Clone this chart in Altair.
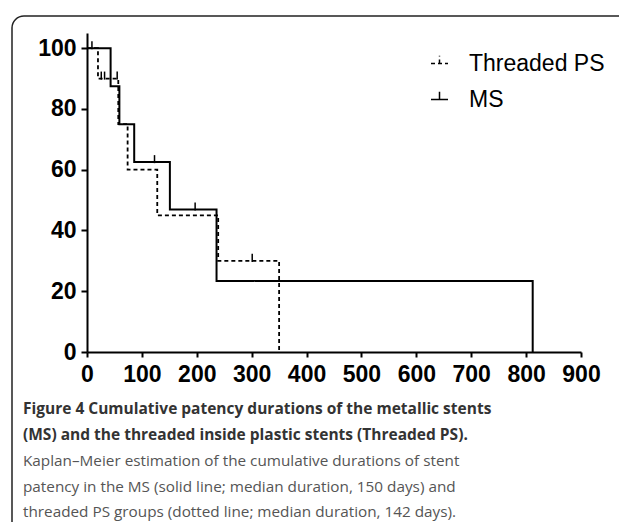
import altair as alt
import pandas as pd

# Kaplan-Meier step data (days, % patency)
ms_days = [0, 43, 59, 86, 151, 236, 812]
ms_surv = [100, 87.5, 75, 62.5, 46.9, 23.4, 0]
ps_days = [0, 20, 57, 74, 128, 239, 350]
ps_surv = [100, 90, 75, 60, 45, 30, 0]

# censored observations
ms_cens_days = [9, 123, 197]
ms_cens_surv = [100, 62.5, 46.9]
ps_cens_days = [26, 32, 55, 301]
ps_cens_surv = [90, 90, 90, 30]

groups = ["Threaded PS", "MS"]
x_ticks = [0, 100, 200, 300, 400, 500, 600, 700, 800, 900]
y_ticks = [0, 20, 40, 60, 80, 100]

caption_bold = [
    "Figure 4 Cumulative patency durations of the metallic stents",
    "(MS) and the threaded inside plastic stents (Threaded PS).",
]
caption_reg = [
    "Kaplan\u2013Meier estimation of the cumulative durations of stent",
    "patency in the MS (solid line; median duration, 150 days) and",
    "threaded PS groups (dotted line; median duration, 142 days).",
]

curves = pd.DataFrame(
    {"t": ms_days + ps_days,
     "s": ms_surv + ps_surv,
     "g": ["MS"] * len(ms_days) + ["Threaded PS"] * len(ps_days)}
)
cens = pd.DataFrame(
    {"t": ms_cens_days + ps_cens_days,
     "s": ms_cens_surv + ps_cens_surv,
     "g": ["MS"] * len(ms_cens_days) + ["Threaded PS"] * len(ps_cens_days)}
)

xs = alt.Scale(domain=[0, 900], nice=False)
ys = alt.Scale(domain=[0, 105], nice=False)

x_axis = alt.Axis(values=x_ticks, title=None, grid=False, labelFlush=False,
                  tickSize=5, labelPadding=6)
y_axis = alt.Axis(values=y_ticks, title=None, grid=False, labelFlush=False,
                  tickSize=6, labelPadding=5)

dash = alt.StrokeDash(
    "g:N",
    scale=alt.Scale(domain=groups, range=[[4, 3], [1, 0]]),
    legend=alt.Legend(
        title=None, orient="none", legendX=341, legendY=19,
        symbolType="M-1,0L1,0M0,0L0,-0.9", symbolSize=289,
        symbolStrokeWidth=1.5, symbolStrokeColor="black",
        labelFont="Liberation Sans", labelFontSize=23, labelColor="black",
        labelOffset=18, rowPadding=12, padding=0,
    ),
)

base = alt.Chart(curves)

dashed = base.transform_filter(alt.datum.g == "Threaded PS").mark_line(
    interpolate="step-after", color="black", strokeWidth=1.8
).encode(x=alt.X("t:Q", scale=xs, axis=x_axis),
         y=alt.Y("s:Q", scale=ys, axis=y_axis),
         strokeDash=dash)

solid = base.transform_filter(alt.datum.g == "MS").mark_line(
    interpolate="step-after", color="black", strokeWidth=2
).encode(x=alt.X("t:Q", scale=xs), y=alt.Y("s:Q", scale=ys), strokeDash=dash)

ticks = alt.Chart(cens).mark_point(
    shape="M0,-1L0,0.15", size=196, filled=False, color="black", strokeWidth=1.5,
    opacity=1
).encode(x=alt.X("t:Q", scale=xs), y=alt.Y("s:Q", scale=ys))

one = alt.Data(values=[{}])

border = alt.Chart(one).mark_rect(
    fill="transparent", stroke="#222222", strokeWidth=1.5, cornerRadius=12
).encode(x=alt.value(-75), x2=alt.value(560), y=alt.value(-17), y2=alt.value(520))

cap_y = [381, 407, 432.5, 458.5, 484]
cap_layers = []
for i, line in enumerate(caption_bold):
    cap_layers.append(
        alt.Chart(one).mark_text(
            text=line, align="left", baseline="alphabetic", font="Open Sans",
            fontWeight="bold", fontSize=15.5, color="#333333"
        ).encode(x=alt.value(-64), y=alt.value(cap_y[i]))
    )
for j, line in enumerate(caption_reg):
    cap_layers.append(
        alt.Chart(one).mark_text(
            text=line, align="left", baseline="alphabetic", font="Open Sans",
            fontSize=15.3, color="#555555"
        ).encode(x=alt.value(-64), y=alt.value(cap_y[2 + j]))
    )

chart = alt.layer(border, dashed, solid, ticks, *cap_layers).properties(
    width=494, height=319,
    padding={"left": 79, "top": 25, "right": 38, "bottom": 170},
    autosize=alt.AutoSizeParams(type="none"),
    background="white",
).configure_view(stroke=None).configure_axis(
    labelFont="Liberation Sans", labelFontWeight="bold", labelFontSize=23,
    labelColor="black", domainColor="black", domainWidth=2,
    tickColor="black", tickWidth=2,
)

chart.save("out.html", embed_options={"renderer": "svg", "actions": False})
